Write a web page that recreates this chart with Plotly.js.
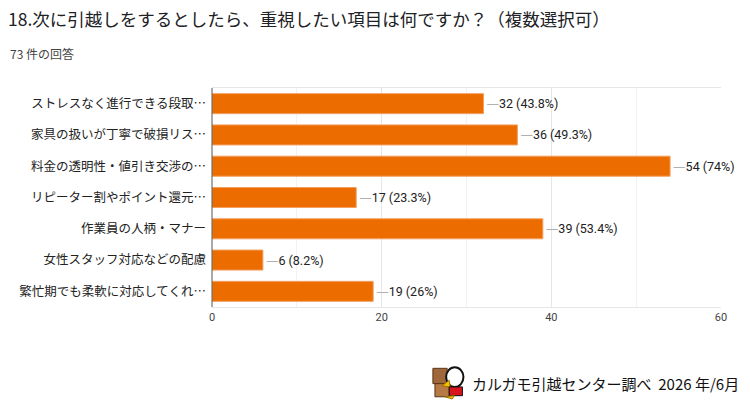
<!DOCTYPE html>
<html>
<head>
<meta charset="utf-8">
<script src="https://cdn.plot.ly/plotly-3.0.1.min.js"></script>
<style>
  html, body { margin: 0; padding: 0; background: #fff; }
  #chart { width: 750px; height: 413px; }
</style>
</head>
<body>
<div id="chart"></div>
<script>
// survey answers, top to bottom as shown
const categories = [
  'ストレスなく進行できる段取…',
  '家具の扱いが丁寧で破損リス…',
  '料金の透明性・値引き交渉の…',
  'リピーター割やポイント還元…',
  '作業員の人柄・マナー',
  '女性スタッフ対応などの配慮',
  '繁忙期でも柔軟に対応してくれ…'
];
const counts = [32, 36, 54, 17, 39, 6, 19];
const percents = ['43.8%', '49.3%', '74%', '23.3%', '53.4%', '8.2%', '26%'];
const xTicks = [0, 20, 40, 60];

const jpFont = '"Noto Sans CJK JP", "Noto Sans", sans-serif';
const numFont = 'Roboto, Arial, sans-serif';

// grey leader line in front of each value label
const labels = counts.map((c, i) =>
  '<span style="color:#b0b0b0;font-family:\'DejaVu Sans\'">—</span>' + c + ' (' + percents[i] + ')');

const trace = {
  type: 'bar',
  orientation: 'h',
  x: counts,
  y: categories,
  marker: { color: '#ec6c00', line: { width: 1, color: '#f3a060' } },
  text: labels,
  textposition: 'outside',
  constraintext: 'none',
  cliponaxis: false,
  textfont: { family: numFont, size: 12.5, color: '#222' },
  hoverinfo: 'none'
};

// small mascot drawn with shapes next to the credit line
const logo = [
  { type: 'rect', x0: 0.434, x1: 0.462, y0: -0.28, y1: -0.35, fillcolor: '#a0673a', line: { color: '#5a3415', width: 1 } },
  { type: 'rect', x0: 0.438, x1: 0.466, y0: -0.35, y1: -0.41, fillcolor: '#b67a45', line: { color: '#5a3415', width: 1 } },
  { type: 'circle', x0: 0.460, x1: 0.494, y0: -0.275, y1: -0.365, fillcolor: '#fff', line: { color: '#111', width: 2 } },
  { type: 'path', path: 'M 0.466 -0.335 L 0.452 -0.36 L 0.468 -0.365 Z', fillcolor: '#f6c400', line: { color: '#a07000', width: 1 } },
  { type: 'rect', x0: 0.466, x1: 0.492, y0: -0.365, y1: -0.405, fillcolor: '#d8141e', line: { color: '#111', width: 1 } },
  { type: 'path', path: 'M 0.458 -0.41 L 0.476 -0.405 L 0.472 -0.42 Z', fillcolor: '#f6c400', line: { color: '#a07000', width: 1 } }
];

const layout = {
  width: 750,
  height: 413,
  margin: { l: 212, r: 29, t: 88, b: 106 },
  paper_bgcolor: '#fff',
  plot_bgcolor: '#fff',
  showlegend: false,
  bargap: 0.36,
  title: {
    text: '18.次に引越しをするとしたら、重視したい項目は何ですか？（複数選択可）',
    x: 8 / 750, xanchor: 'left', xref: 'container',
    y: 1 - 20 / 413, yanchor: 'middle', yref: 'container',
    font: { family: jpFont, size: 17.5, color: '#202124' }
  },
  xaxis: {
    range: [0, 60],
    tickvals: xTicks,
    ticktext: xTicks.map(String),
    showgrid: true,
    gridcolor: '#e6e6e6',
    gridwidth: 1,
    minor: { dtick: 10, tick0: 0, showgrid: true, gridcolor: '#f2f2f2', gridwidth: 1 },
    zeroline: false,
    showline: true,
    linecolor: '#e6e6e6',
    mirror: true,
    ticks: '',
    ticklen: 0,
    tickfont: { family: numFont, size: 11, color: '#444' },
    fixedrange: true
  },
  yaxis: {
    autorange: 'reversed',
    showgrid: false,
    zeroline: false,
    showline: false,
    ticks: '',
    ticklabelstandoff: 5,
    tickfont: { family: jpFont, size: 12.5, color: '#222' },
    fixedrange: true
  },
  shapes: [
    { type: 'line', xref: 'paper', yref: 'paper', x0: 0, x1: 0, y0: 0, y1: 1, line: { color: '#555', width: 1 } }
  ].concat(logo.map(s => Object.assign({ xref: 'paper', yref: 'paper', layer: 'above' }, s))),
  annotations: [
    {
      text: '73 件の回答',
      xref: 'paper', yref: 'paper',
      x: (8 - 212) / 509, y: (307 - 54) / 219,
      xanchor: 'left', yanchor: 'middle', showarrow: false,
      font: { family: jpFont, size: 12, color: '#444' }
    },
    {
      text: 'カルガモ引越センター調べ  2026 年/6月',
      xref: 'paper', yref: 'paper',
      x: (470 - 212) / 509, y: (307 - 383) / 219,
      xanchor: 'left', yanchor: 'middle', showarrow: false,
      font: { family: jpFont, size: 15, color: '#111' }
    }
  ]
};

Plotly.newPlot('chart', [trace], layout, { displayModeBar: false, staticPlot: true });
</script>
</body>
</html>
